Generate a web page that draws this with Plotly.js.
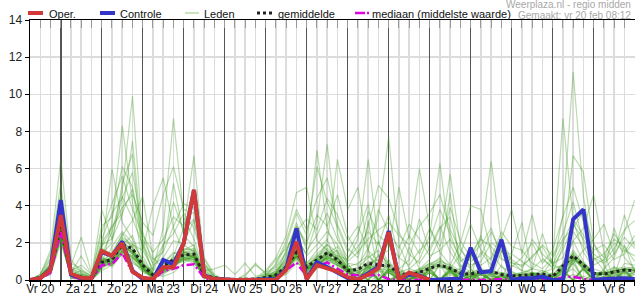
<!DOCTYPE html>
<html><head><meta charset="utf-8">
<script src="https://cdn.plot.ly/plotly-3.0.1.min.js"></script>
<style>html,body{margin:0;padding:0;background:#fff}#chart{width:635px;height:300px}</style>
</head><body><div id="chart"></div>
<script>
// time steps: hours after Fri 20 Feb 06:00, every 6 hours
const stapUren = 6;
const aantalStappen = 60;
const tijden = Array.from({length: aantalStappen}, (_, i) => i * stapUren);

const dagLabels = ["Vr 20","Za 21","Zo 22","Ma 23","Di 24","Wo 25","Do 26","Vr 27","Za 28","Zo 1","Ma 2","Di 3","Wo 4","Do 5","Vr 6"];
const dagMiddag = dagLabels.map((_, k) => 6 + 24 * k);          // noon of each day
const dagGrens = dagLabels.slice(1).map((_, k) => 18 + 24 * k); // midnight lines

const oper = [0,0.1,0.55,3.5, 0.35,0.12,0.1,1.56, 1.3,1.98,0.45,0.12, 0.05,0.68,0.68,1.98, 4.85,0.22,0.05,0, 0,0,0,0, 0.02,0.54,2.06,0.05, 0.8,0.63,0.45,0.15, 0.02,0.3,0.63,2.57, 0.02,0.4,0.22,0.0];
const controle = [0,0.1,0.6,4.3, 0.3,0.1,0.1,1.5, 1.3,2.06,0.5,0.05, 0.0,1.08,0.85,1.98, 4.85,0.25,0.05,0, 0,0,0,0, 0.05,0.6,2.78,0.05, 0.95,0.7,0.4,0.1, 0.02,0.35,0.7,2.64, 0.05,0.3,0.25,0.0, 0.05,0.05,0.05,1.74, 0.41,0.48,2.17,0.0, 0.09,0.1,0.18,0.0, 0.0,3.27,3.8,0.0, 0.05,0.1,0.1,0.05];
const gemiddelde = [0,0.1,0.5,2.87, 0.3,0.15,0.1,0.95, 1.1,1.9,1.7,0.8, 0.27,0.75,1.1,1.35, 1.4,0.27,0.12,0.05, 0.03,0.03,0.05,0.13, 0.27,0.72,1.49,0.7, 1.08,1.47,1.08,0.5, 0.57,0.9,0.8,0.77, 0.36,0.27,0.41,0.63, 0.8,0.63,0.36,0.32, 0.45,0.45,0.3,0.22, 0.25,0.27,0.32,0.18, 0.72,1.31,0.8,0.36, 0.32,0.45,0.54,0.5];
const mediaan = [0,0.05,0.4,2.6, 0.2,0.05,0.05,0.8, 0.85,1.45,0.4,0.1, 0.0,0.5,0.6,0.8, 0.85,0.1,0,0, 0,0,0,0, 0.1,0.5,0.95,0.2, 0.7,0.95,0.6,0.3, 0.25,0.25,0.27,0.05, 0,0,0.02,0, 0.03,0.05,0.02,0, 0,0.02,0.05,0, 0,0.02,0,0, 0.15,0.18,0.05,0, 0,0.05,0.1,0.05];

const leden = [
[0,0.1,0.5,2.8, 0.2,0,0,0.9, 1.2,2.1,1.5,0.6, 0.1,0.5,0.9,1.4, 1.2,0.2,0,0, 0,0,0,0.1, 0.2,0.8,1.6,0.5, 1.1,1.9,1.2,0.4, 0,0.3,2.1,0.4, 0,0.1,0,0.8, 1.2,0.5,0,0.2, 0,0.6,0,0, 0.1,0,0.3,0, 0.6,1.5,0.8,0, 0,0.2,0.6,0.5],
[0,0.2,0.8,3.5, 0.4,0.2,0.1,1.4, 2.6,4.8,9.9,2.1, 0.3,0.2,0.4,0.9, 1.3,0.1,0,0, 0,0,0,0, 0.1,0.4,1.1,0.2, 0.6,0.9,0.5,0.2, 0,3.2,0.3,0, 0.2,0,0.5,0, 0,0.8,0,0, 2.4,0.3,0,0, 0,0.4,0,0, 0,0.3,0.1,0, 0,0.2,1.9,0.4],
[0,0.1,0.4,2.4, 0.1,0.1,0,0.7, 3.1,8.3,4.2,1.0, 0.2,1.1,0.8,1.6, 1.9,0.3,0.1,0, 0,0,0,0.2, 0.3,1.3,2.4,0.6, 0.9,1.4,1.8,0.8, 0.4,0,0,1.1, 0,0.3,0,0, 0.9,4.7,0.3,0, 0,0.2,0,0.5, 0,0,0.1,0, 0,1.1,0.6,0, 0,0.1,0,0.3],
[0,0.1,0.6,3.0, 0.3,0.5,0.2,1.1, 0.9,1.6,1.2,0.7, 0.6,2.8,8.7,3.4, 2.2,0.5,0.1,0, 0,0,0,0, 0.2,0.5,1.4,0.9, 1.6,2.2,0.7,0.3, 0,0.2,0,0, 0,1.8,0.6,0, 0,0,0.4,0, 0,0,0.8,0, 0,0,0,0.2, 0.9,2.1,1.0,0.4, 0,0,0.3,0],
[0,0.2,0.7,2.6, 0.2,0,0,0.8, 1.0,1.9,2.4,0.9, 0.2,0.6,1.3,2.8, 6.7,0.8,0.2,0.1, 0,0,0,0.1, 0.2,0.6,1.3,0.4, 0.8,1.2,0.9,0.5, 0.7,1.2,1.6,0.8, 0,0,0.2,0, 0,0,0.5,0, 0,0,0,1.4, 3.1,0.4,0,0, 0,0,0.2,0, 0.5,0,0,0],
[0,0.3,1.6,6.5, 1.1,0.4,0.1,1.7, 1.4,2.2,1.8,0.5, 0.1,0.3,0.7,1.1, 0.9,0.2,0,0, 0,0,0,0, 0.1,0.3,0.9,0.6, 1.3,1.1,0.8,0.6, 0,0,1.4,0.9, 0,0.3,0,0, 0,0,0,0.6, 0,0,0,0, 0.2,0,0,0, 0.8,1.4,0.5,0, 0,0,0.2,0],
[0,0.1,0.5,3.1, 0.2,0.1,0,1.0, 0.8,1.5,1.1,0.4, 0.2,0.9,1.5,1.2, 1.0,0.1,0,0, 0,0,0,0.2, 0.5,1.0,2.2,1.4, 3.2,7.3,2.5,0.9, 0,0.4,0,0, 0,0,0.3,0, 0,0,0,0, 0.5,0,0,0, 0,0,0,0, 0.3,0.6,0,0, 0,0.7,0,0],
[0,0.1,0.3,2.2, 0.1,0.2,0,0.6, 1.8,2.6,2.0,1.1, 0.3,0.4,0.6,1.5, 1.6,0.2,0.1,0, 0,0,0,0.1, 0.3,1.6,2.9,1.8, 7.0,2.8,1.5,0.7, 0.9,1.3,0.8,0.6, 0.3,0.1,0.2,0.6, 0.8,0.5,0.3,0.4, 0.6,0.2,0.1,0.2, 0.3,0.2,0.3,0.2, 0.6,1.3,0.9,0.4, 0.3,0.5,0.4,0.3],
[0,0.1,0.6,2.9, 0.3,0.2,0.1,1.3, 0.7,1.4,0.9,0.6, 0.1,0.7,1.1,1.9, 1.5,0.3,0,0, 0,0,0,0, 0.2,0.5,1.5,0.3, 0.7,1.3,1.6,0.9, 0.8,1.7,3.4,7.7, 1.9,0.6,0.4,0.7, 1.0,0.4,0.2,0.3, 0,0,0.2,0, 0,0.4,0,0, 0,1.2,0.6,0.2, 0,0,0.9,0.8],
[0,0.2,0.5,2.5, 0.2,0.1,0,0.9, 1.1,2.0,1.4,0.8, 0.4,0.5,0.8,1.3, 1.2,0.2,0,0, 0,0,0,0.1, 0.3,0.9,1.7,0.7, 1.0,1.5,1.3,1.1, 2.2,6.5,2.0,0.9, 0.6,0.3,0.5,0.9, 0.7,0.6,0.3,0.2, 0.4,0.3,0.4,0.2, 0.1,0.3,0.5,0.2, 0.5,1.1,0.8,0.3, 0.4,0.7,0.5,0.4],
[0,0.1,0.4,2.7, 0.2,0.3,0.1,0.8, 1.3,1.7,1.0,0.5, 0.2,0.6,0.9,1.0, 1.4,0.3,0.1,0, 0,0.1,0,0.2, 0.4,0.7,1.2,0.5, 0.9,1.1,0.8,0.4, 0.3,0.8,0.6,0.5, 0.4,0.6,1.1,2.4, 6.3,1.9,0.8,0.4, 0.6,0.5,0.3,0.2, 0.4,0.3,0.2,0.1, 0.7,1.6,0.9,0.4, 0.3,0.5,0.6,0.7],
[0,0.2,0.6,3.3, 0.4,0.2,0,1.1, 0.8,1.8,1.6,0.9, 0.3,0.4,0.7,1.2, 1.1,0.2,0,0, 0,0,0,0, 0.3,0.6,1.4,0.6, 0.8,1.0,1.2,0.6, 0.4,0.7,0.5,0.4, 0.2,0.3,0.2,0.5, 0.7,0.5,0.6,1.2, 2.4,6.4,2.1,0.8, 0.5,0.4,0.3,0.2, 0.6,1.2,0.7,0.3, 0.2,0.4,0.5,0.6],
[0,0.1,0.5,2.8, 0.2,0.1,0,0.7, 0.9,1.5,1.3,0.6, 0.2,0.5,0.9,1.4, 1.3,0.2,0,0, 0,0,0,0.1, 0.2,0.5,1.2,0.4, 0.7,1.3,1.0,0.5, 0.3,0,0.7,0, 0.2,0.1,0,0.6, 0,0.3,0,0.2, 0,0.3,0,0.1, 0.2,0,0.4,0.6, 3.5,11.2,4.5,1.2, 0.5,0,0.6,0],
[0,0.2,0.7,3.0, 0.3,0.2,0,1.0, 1.2,2.3,1.9,0.7, 0.1,0.6,1.2,1.6, 1.7,0.3,0.1,0, 0,0,0,0, 0.3,0.8,1.9,0.8, 1.2,1.6,1.1,0.5, 0,0.9,0,0.6, 0,0.2,0.4,0, 0.8,0,0.3,0, 0,0.4,0,0.2, 0.3,0,0.3,1.1, 8.7,3.2,1.5,0.6, 0.4,0,0.5,0],
[0,0.1,0.4,2.3, 0.1,0,0,0.6, 1.0,1.6,1.2,0.5, 0.2,0.8,1.0,1.1, 1.0,0.1,0,0, 0,0,0,0.1, 0.2,0.6,1.3,0.7, 1.1,1.4,1.2,0.6, 0.5,0,0.6,0, 0.1,0,0.4,0.7, 0,0.6,0,0.1, 0.3,0,0.3,0, 0,0.1,0,0.4, 1.8,6.7,5.8,2.0, 0.8,0,0.4,0],
[0,0.1,0.5,2.6, 0.2,0.3,0.1,0.9, 1.3,2.5,1.7,0.6, 0.2,0.4,0.8,1.3, 1.4,0.2,0,0, 0,0,0,0, 0.1,0.5,1.5,0.6, 0.9,1.2,0.9,0.4, 0,0.7,0,0.6, 0.3,0,0,0.4, 0,0.5,0.3,0, 0.5,0,0.2,0, 0,0.3,0,0.3, 0.9,2.1,2.8,4.6, 1.5,0,0.6,0],
[0,0.2,0.6,2.9, 0.3,0.1,0,1.2, 0.9,1.9,1.5,0.8, 0.3,0.6,1.0,1.5, 1.5,0.3,0.1,0, 0,0,0,0.1, 0.3,0.7,1.6,0.5, 1.0,1.5,1.1,0.5, 0,0.8,0,0, 0.3,0.3,0,0.6, 0,0.6,0,0.3, 0.4,0,0.3,0, 0.3,0,0.3,0, 0.6,0,0.7,0, 0.6,1.2,2.6,4.3],
[0,0.1,0.4,2.5, 0.2,0.2,0,0.8, 1.1,2.0,1.6,0.7, 0.2,0.5,0.9,1.2, 1.3,0.2,0,0, 0,0,0,0, 0.2,0.6,1.3,0.6, 0.9,1.2,1.0,0.5, 0,0.6,0.8,0, 0.3,0,0.6,1.1, 2.3,5.7,1.8,0.6, 0,0.3,0,0.2, 0,0.3,0,0.1, 0,1.1,0,0.3, 0,0.4,0,0.6],
[0,0.2,0.8,3.6, 0.6,0.3,0.2,3.8, 2.2,3.5,7.5,1.8, 0.5,0.9,1.4,1.7, 1.6,0.2,0,0, 0,0,0,0, 0.2,0.5,1.3,0.5, 0.8,1.1,0.9,0.4, 0.3,0,0.5,0, 0.2,0,0.3,0, 0,0.4,0,0, 0.3,0,0,0, 0,0,0.3,0, 0,0.9,0,0, 0,0.3,0,0],
[0,0.1,0.5,2.4, 0.3,0.2,0.1,1.6, 6.0,3.1,2.2,0.9, 0.3,0.7,1.1,1.4, 1.2,0.2,0,0, 0,0,0,0, 0.2,0.7,1.5,0.6, 1.0,1.3,1.0,0.6, 0.5,1.0,0.9,0.7, 0.4,0.3,0.4,0.6, 0.8,0.7,0.4,0.3, 0.5,0.4,0.3,0.2, 0.3,0.3,0.4,0.2, 0.6,1.2,0.7,0.3, 0.3,0.5,0.6,0.5],
[0,0.1,0.3,2.0, 0.2,0.1,0,0.5, 0.8,1.4,1.9,1.6, 4.0,5.5,2.8,1.5, 1.2,0.4,0.1,0, 0,0,0,0.2, 0.5,1.1,2.0,0.8, 1.3,1.7,1.4,0.6, 0.6,0.9,1.1,0.8, 0.5,0.3,0.6,0.9, 1.1,0.7,0.3,0.2, 0.4,0.5,0.4,0.3, 0.4,0.6,0.5,0.3, 0.7,1.3,0.9,0.4, 0.4,0.5,0.6,0.5],
[0,0.3,1.2,4.1, 0.8,2.3,0.4,1.0, 1.5,2.4,3.2,4.5, 1.2,0.6,0.7,1.1, 1.3,0.3,0.1,0, 0,0.1,0,0.1, 0.4,0.9,1.8,0.9, 1.4,1.9,1.5,0.7, 0,1.6,0,0.6, 0.4,0,0.2,0.5, 0,0.5,0,0.2, 0.4,0,1.6,0.2, 0,0.2,0,0.2, 0,1.0,0,0.3, 0.3,0,0.5,0],
[0,0.1,0.4,2.2, 0.2,0.1,0,0.7, 1.0,1.7,1.4,0.6, 0.2,0.5,0.8,1.2, 1.1,0.2,0,0, 0,0,0.1,0.5, 1.2,2.4,4.7,5.0, 2.1,1.6,1.3,0.7, 0,0.7,0,0.5, 0,0.2,0,0.4, 0,0.4,0,0.2, 0.3,0,0.2,0, 0.2,0,0.2,0, 0.5,0,0.6,0, 0.2,0,0.5,0],
[0,0.2,0.6,3.1, 0.4,0.2,0.1,1.2, 1.0,1.8,1.5,0.7, 0.2,0.6,1.0,1.5, 1.4,0.3,0.1,0, 0,0,0,0, 0.2,0.7,1.6,0.8, 1.2,2.0,6.5,3.8, 5.0,1.6,1.0,0.6, 0,0.3,0,0.6, 0,0.5,0,0, 0.4,0,0.3,0, 0,0.4,0,0.2, 0.5,0,0.6,0, 0,0.5,0,0.5],
[0,0.1,0.5,2.7, 0.3,0.1,0,0.9, 1.2,2.1,1.6,0.7, 0.2,0.5,0.9,1.3, 1.3,0.2,0,0, 0,0,0,0.1, 0.3,0.8,1.7,0.7, 1.0,1.4,1.1,0.5, 0.4,0.7,1.3,1.6, 5.0,2.2,6.0,2.8, 1.5,0.8,0.5,0.4, 0,0.4,0,0.2, 0,0.4,0,0, 0.4,0,0.6,0, 0,0.4,0,0.4],
[0,0.1,0.4,2.4, 0.2,0.1,0,0.8, 0.9,1.6,1.3,0.6, 0.2,0.4,0.8,1.1, 1.2,0.2,0,0, 0,0,0,0, 0.2,0.6,1.3,0.5, 0.9,1.3,1.0,0.5, 0,0.5,0,0.4, 0,0.3,0.4,0.7, 0.9,0.6,1.4,3.0, 1.6,1.1,2.2,3.8, 1.4,3.5,1.2,0.6, 0.8,1.4,0.8,0.3, 0.3,0.6,0.7,0.6],
[0,0.2,0.6,2.8, 0.3,0.2,0.1,1.1, 1.1,1.9,1.4,0.7, 0.3,0.6,1.0,1.4, 1.3,0.2,0,0, 0,0,0,0.1, 0.3,0.7,1.5,0.6, 1.0,1.4,1.2,0.6, 0,0.8,0,0.5, 0.3,0,0.5,0.8, 1.0,0.8,2.0,4.0, 3.8,1.5,0.7,0.4, 0.3,0.6,2.5,0.8, 0.6,1.2,0.8,0.4, 0.4,2.8,1.2,0.6],
[0,0.1,0.5,2.5, 0.2,0.1,0,0.9, 1.0,1.8,1.5,0.6, 0.2,0.5,0.8,1.2, 1.1,0.2,0,0, 0,0.2,0.9,0.3, 0.2,0.6,1.3,0.5, 0.8,1.2,1.0,0.5, 0,0.6,0,0.5, 0,0.3,0,0.5, 0,0.5,0,0.2, 0.3,0,0.2,0, 0.2,0,0.2,0, 0.4,0.9,1.6,2.2, 3.0,1.4,3.5,1.8],
[0,0.2,0.7,3.4, 0.5,0.2,0.1,1.4, 2.0,5.2,6.8,1.3, 0.3,0.7,1.2,1.5, 1.4,0.2,0,0, 0,0,0,0, 0.2,0.5,1.2,0.4, 0.7,1.0,0.8,0.4, 0,0.5,0,0.4, 0,0.2,0,0.4, 0,0.6,0,0, 0.3,0,0.2,0, 0.2,0,0.3,0, 0.4,0,0.6,0, 0.2,0,0.4,0],
[0,0.1,0.4,2.3, 0.2,0.1,0,0.7, 0.9,1.5,1.2,0.8, 0.5,1.6,5.2,2.4, 1.8,0.5,0.6,0.8, 0.3,0.9,0.2,0.3, 0.4,1.0,1.8,0.7, 1.1,1.5,1.2,0.6, 0.5,0.8,0.7,0.5, 0.3,0.4,0.6,0.7, 0.8,0.6,0.4,0.3, 0.5,0.4,0.3,0.2, 0.3,0.4,0.3,0.2, 0.5,1.1,0.7,0.3, 0.3,0.5,0.6,0.5],
[0,0.2,0.9,3.8, 0.5,0.3,0,2.2, 3.6,4.4,5.8,2.6, 0.8,1.2,2.1,2.0, 3.2,0.6,0,0, 0,0,0,0.3, 0.8,1.9,3.6,2.4, 6.1,4.2,2.8,1.5, 2.5,4.1,1.2,2.0, 0.6,1.1,3.3,1.5, 2.8,3.4,1.1,0.6, 1.5,0.8,2.3,1.0, 0.5,2.2,1.4,0.9, 1.2,2.6,1.8,0.8, 1.1,2.0,1.5,2.4],
[0,0.2,1.1,4.6, 0.7,0.5,0.2,2.6, 4.1,5.6,3.8,2.4, 1.5,2.2,3.4,2.9, 4.5,1.2,0.3,0, 0,0,0,0.3, 0.6,1.4,3.1,1.6, 2.4,3.6,2.2,1.2, 1.8,2.6,1.9,3.5, 1.2,0.8,1.6,2.1, 3.8,2.5,1.0,1.4, 2.2,1.8,1.1,0.9, 0.8,1.2,1.9,1.3, 2.5,4.2,2.0,1.1, 1.4,2.2,1.8,1.0],
[0,0.1,0.8,3.9, 0.4,1.3,0.3,1.8, 2.8,3.9,4.6,3.1, 2.4,4.6,6.1,3.8, 3.6,1.1,0.2,0, 0,0,0,0.2, 0.9,2.1,3.8,2.7, 4.4,5.5,3.0,1.7, 1.2,2.9,5.1,4.4, 2.6,1.4,0.9,1.7, 2.9,1.5,0.7,1.3, 1.9,2.8,1.2,0.7, 1.2,2.0,0.9,1.6, 3.4,5.0,3.1,1.2, 0.9,1.4,2.3,1.7],
[0,0.1,0.6,3.2, 0.6,0.4,0.1,1.9, 2.2,4.5,3.3,1.9, 0.9,1.9,2.5,3.6, 2.8,0.9,0.2,0, 0,0.1,0,0.4, 1.1,1.7,2.6,3.3, 2.7,4.4,3.5,2.1, 2.9,1.6,3.8,2.6, 1.7,3.0,2.2,1.3, 1.6,2.2,1.2,0.8, 1.0,2.0,1.6,1.1, 0.7,1.3,1.8,0.8, 2.0,3.3,2.4,1.6, 1.9,1.1,1.4,2.1],
[0,0.3,1.4,5.2, 0.9,0.6,0.2,2.9, 3.4,6.1,5.0,2.2, 1.1,1.5,2.9,4.1, 3.9,0.9,0.1,0, 0,0,0,0.1, 0.4,1.2,2.4,1.3, 1.9,2.6,1.9,1.0, 1.5,2.2,2.7,3.1, 2.4,1.9,2.9,3.6, 4.6,2.7,1.6,1.0, 1.3,2.6,1.5,1.4, 1.0,0.6,1.1,0.7, 1.6,3.0,2.2,1.4, 1.0,1.7,2.7,3.2],
[0,0.2,0.9,4.4, 0.5,0.8,0.3,2.0, 2.9,3.6,4.9,1.6, 0.6,1.8,4.2,2.6, 3.3,0.7,0.1,0, 0,0.3,0.8,0.4, 0.7,1.5,2.9,2.0, 3.5,2.9,4.6,2.4, 1.4,3.7,2.4,1.9, 1.2,2.4,1.4,2.8, 1.8,3.9,2.1,1.2, 0.8,1.2,2.6,1.8, 1.6,0.9,0.6,1.2, 2.2,2.8,3.7,1.9, 1.2,2.5,1.6,1.3]
];

const legendaNamen = ["Oper.", "Controle", "Leden", "gemiddelde", "mediaan (middelste waarde)"];
const bronTekst = "Weerplaza.nl - regio midden";
const gemaaktTekst = "Gemaakt: vr 20 feb 08:12";

const kleurOper = "#d23a3a", kleurControle = "#3434c8", kleurLeden = "rgba(62,155,30,0.36)",
      kleurLedenLegenda = "#b8dba8", kleurGem = "#222222", kleurMed = "#e000e0";
const medDash = "8px,3px,2px,3px";

const traces = [];
leden.forEach(m => traces.push({x: tijden.slice(0, m.length), y: m, type: "scatter", mode: "lines",
  line: {color: kleurLeden, width: 1.2}, hoverinfo: "skip", showlegend: false}));
traces.push({x: tijden, y: gemiddelde, type: "scatter", mode: "lines", line: {color: kleurGem, width: 3, dash: "dot"}, showlegend: false});
traces.push({x: tijden, y: mediaan, type: "scatter", mode: "lines", line: {color: kleurMed, width: 2.5, dash: medDash}, showlegend: false});
traces.push({x: tijden.slice(0, controle.length), y: controle, type: "scatter", mode: "lines", line: {color: kleurControle, width: 4}, showlegend: false});
traces.push({x: tijden.slice(0, oper.length), y: oper, type: "scatter", mode: "lines", line: {color: kleurOper, width: 4}, showlegend: false});
// empty carrier traces so the overlaying axes (day lines, top ticks, day labels) are drawn
["x2", "x3", "x4"].forEach(ax => traces.push({x: dagMiddag, y: dagMiddag.map(() => null), xaxis: ax, yaxis: "y",
  type: "scatter", mode: "lines", hoverinfo: "skip", showlegend: false, line: {width: 0}}));

// layout helpers (pixel -> paper)
const L = 30, R = 0, T = 20, B = 20, W = 635, H = 300;
const pw = W - L - R, ph = H - T - B;
const px = v => (v - L) / pw;
const py = v => (H - B - v) / ph;
const xr = [0, 354.2];
const font = "Liberation Sans, Arial, Helvetica, sans-serif";

const legendItems = [
  {x0: 28, x1: 43, tx: 47, color: kleurOper, width: 4, dash: "solid"},
  {x0: 100, x1: 115, tx: 118, color: kleurControle, width: 4, dash: "solid"},
  {x0: 185, x1: 199, tx: 202, color: kleurLedenLegenda, width: 1.5, dash: "solid"},
  {x0: 257, x1: 272, tx: 276, color: kleurGem, width: 3, dash: "dot"},
  {x0: 355, x1: 369, tx: 370, color: kleurMed, width: 2.5, dash: "10px,2px,2px,2px"}
];
const legY = 13;
const shapes = legendItems.map(it => ({type: "line", xref: "paper", yref: "paper",
  x0: px(it.x0), x1: px(it.x1), y0: py(legY), y1: py(legY), line: {color: it.color, width: it.width, dash: it.dash}}));
const annotations = legendItems.map((it, k) => ({xref: "paper", yref: "paper", x: px(it.tx), y: py(legY + 0.5),
  xanchor: "left", yanchor: "middle", text: legendaNamen[k], showarrow: false, font: {family: font, size: 11, color: "#111"}}));
annotations.push({xref: "paper", yref: "paper", x: px(633), y: py(5), xanchor: "right", yanchor: "middle",
  text: bronTekst, showarrow: false, font: {family: font, size: 10, color: "#a8a8a8"}});
annotations.push({xref: "paper", yref: "paper", x: px(633), y: py(15.5), xanchor: "right", yanchor: "middle",
  text: gemaaktTekst, showarrow: false, font: {family: font, size: 10, color: "#a8a8a8"}});

const layout = {
  width: W, height: H, margin: {l: L, r: R, t: T, b: B, pad: 0},
  paper_bgcolor: "#fff", plot_bgcolor: "#fff", showlegend: false,
  font: {family: font, size: 12, color: "#222"},
  xaxis: {type: "linear", range: xr, tickmode: "linear", tick0: 0, dtick: stapUren, showgrid: true, gridcolor: "#dcdcdc", gridwidth: 1.5,
    ticks: "outside", ticklen: 4, tickcolor: "#000", showticklabels: false, showline: true, linecolor: "#000", linewidth: 1.5,
    zeroline: false, fixedrange: true},
  xaxis2: {type: "linear", overlaying: "x", anchor: "y", range: xr, tickmode: "array", tickvals: dagGrens, showgrid: true, gridcolor: "#555",
    gridwidth: 1.5, ticks: "", showticklabels: false, showline: false, zeroline: false, fixedrange: true},
  xaxis3: {type: "linear", overlaying: "x", anchor: "y", side: "top", range: xr, tickmode: "linear", tick0: 0, dtick: stapUren, ticks: "inside",
    ticklen: 8, tickcolor: "#999", showline: true, linecolor: "#000", linewidth: 1.5, showgrid: false, showticklabels: false, zeroline: false, fixedrange: true},
  xaxis4: {type: "linear", overlaying: "x", anchor: "y", range: xr, tickmode: "array", tickvals: dagMiddag, ticktext: dagLabels, ticks: "",
    showgrid: false, showline: false, zeroline: false, fixedrange: true, tickfont: {family: font, size: 12, color: "#222"}},
  yaxis: {type: "linear", range: [0, 14], tickmode: "linear", tick0: 0, dtick: 2, showgrid: true, gridcolor: "#dcdcdc", gridwidth: 1.5,
    ticks: "outside", ticklen: 4, tickcolor: "#000", showline: true, linecolor: "#000", linewidth: 1.5, zeroline: false,
    tickfont: {family: font, size: 12, color: "#222"}, fixedrange: true},
  shapes: shapes, annotations: annotations
};

Plotly.newPlot("chart", traces, layout, {staticPlot: true, displayModeBar: false});
</script></body></html>
